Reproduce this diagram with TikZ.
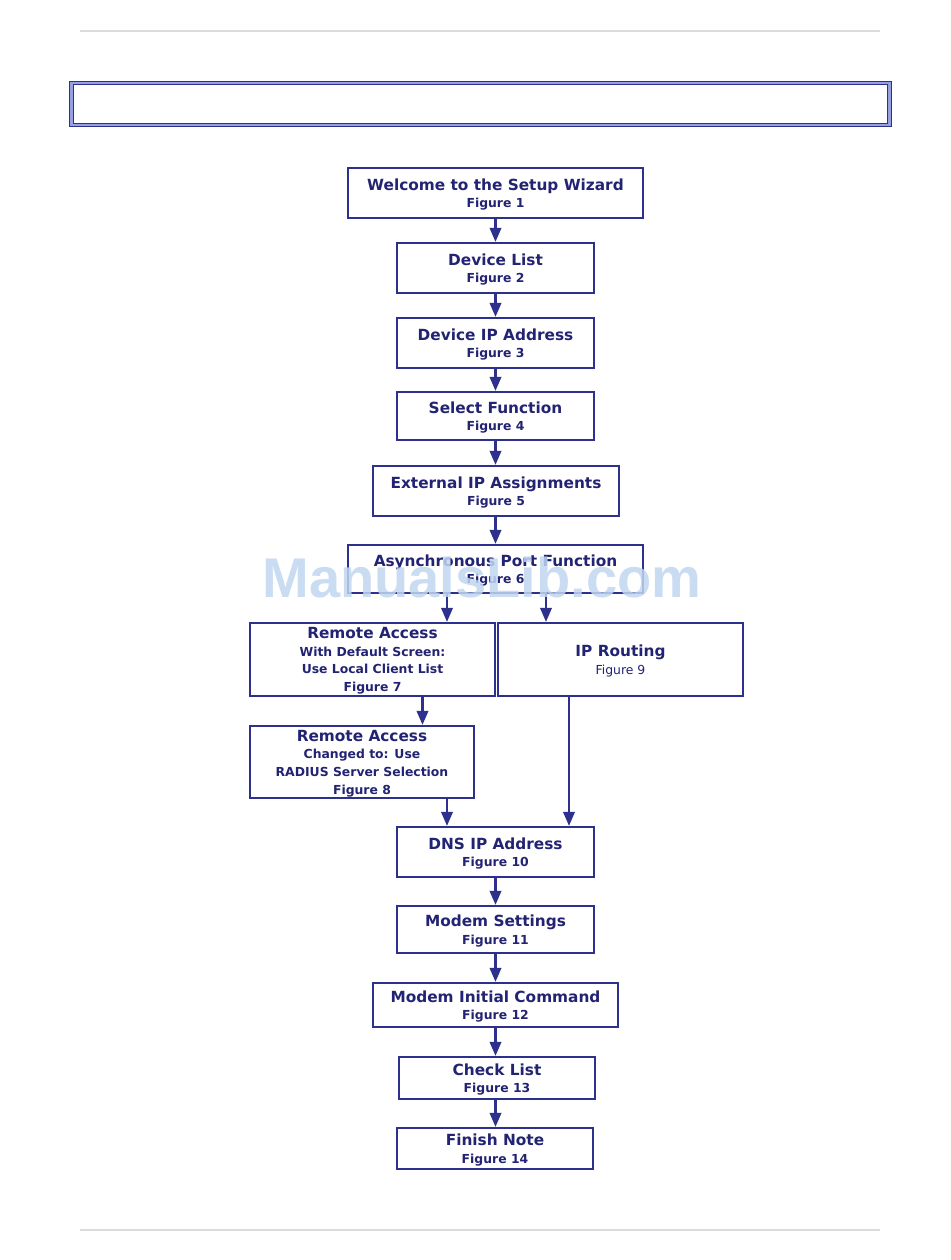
\documentclass[tikz,border=0pt]{standalone}
\usepackage{fontspec}
\setmainfont{DejaVu Sans}
\newfontfamily\wmfont{Liberation Sans}
\usetikzlibrary{arrows.meta}
\definecolor{navy}{RGB}{45,48,140}
\definecolor{txt}{RGB}{35,35,115}
\definecolor{wm}{RGB}{192,214,240}
\definecolor{band}{RGB}{150,160,225}
\newcommand{\tl}[1]{{\fontsize{11.5}{13.2}\selectfont\bfseries #1}}
\newcommand{\fg}[1]{{\fontsize{9.3}{13.2}\selectfont\bfseries #1}}
\newcommand{\fgr}[1]{{\fontsize{9.3}{13.2}\selectfont #1}}
\begin{document}
\begin{tikzpicture}[x=0.75pt,y=-0.75pt,
  box/.style={draw=navy,line width=1.6pt,rectangle,inner sep=0pt,align=center,text=txt,fill=white,
    font=\fontsize{9.3}{13.2}\selectfont,text depth=-0.6pt},
  arr/.style={draw=navy,line width=1.8pt,-{Triangle[width=8.5pt,length=10.5pt]}},
  rule/.style={draw=black!14,line width=1.5pt}]
\useasboundingbox (0,0) rectangle (950,1260);
\fill[white] (0,0) rectangle (950,1260);
% top and bottom rules
\coordinate (rtl) at (80,31); \coordinate (rtr) at (880,31);
\coordinate (rbl) at (80,1230); \coordinate (rbr) at (880,1230);
\draw[rule] (rtl) -- (rtr);
\draw[rule] (rbl) -- (rbr);
% header box
\node[draw=navy,double=band,double distance=1.6pt,line width=0.9pt,inner sep=0pt,
  minimum width=613.5pt,minimum height=31.5pt] (head) at (480.5,104) {};
% boxes
\node[box,minimum width=221.25pt,minimum height=37.5pt] (n1) at (495.5,193)
  {\tl{Welcome to the Setup Wizard}\\\fg{Figure 1}};
\node[box,minimum width=147.75pt,minimum height=37.5pt] (n2) at (495.5,268)
  {\tl{Device List}\\\fg{Figure 2}};
\node[box,minimum width=147.75pt,minimum height=37.5pt] (n3) at (495.5,343)
  {\tl{Device IP Address}\\\fg{Figure 3}};
\node[box,minimum width=147.75pt,minimum height=36pt] (n4) at (495.5,416)
  {\tl{Select Function}\\\fg{Figure 4}};
\node[box,minimum width=184.5pt,minimum height=37.5pt] (n5) at (496,491)
  {\tl{External IP Assignments}\\\fg{Figure 5}};
\node[box,minimum width=221.25pt,minimum height=36pt] (n6) at (495.5,569)
  {\tl{Asynchronous Port Function}\\\fg{Figure 6}};
\node[box,minimum width=183.75pt,minimum height=54.75pt] (n7) at (372.5,659.5)
  {\tl{Remote Access}\\\fg{With Default Screen:}\\\fg{Use Local Client List}\\\fg{Figure 7}};
\node[box,minimum width=183.75pt,minimum height=54.75pt] (n9) at (620.5,659.5)
  {\tl{IP Routing}\\\fgr{Figure 9}};
\node[box,minimum width=168pt,minimum height=54pt] (n8) at (362,762)
  {\tl{Remote Access}\\\fg{Changed to: Use}\\\fg{RADIUS Server Selection}\\\fg{Figure 8}};
\node[box,minimum width=147.75pt,minimum height=37.5pt] (n10) at (495.5,852)
  {\tl{DNS IP Address}\\\fg{Figure 10}};
\node[box,minimum width=147.75pt,minimum height=35.25pt] (n11) at (495.5,929.5)
  {\tl{Modem Settings}\\\fg{Figure 11}};
\node[box,minimum width=183.75pt,minimum height=33pt] (n12) at (495.5,1005)
  {\tl{Modem Initial Command}\\\fg{Figure 12}};
\node[box,minimum width=147pt,minimum height=31.5pt] (n13) at (497,1078)
  {\tl{Check List}\\\fg{Figure 13}};
\node[box,minimum width=147pt,minimum height=30.75pt] (n14) at (495,1148.5)
  {\tl{Finish Note}\\\fg{Figure 14}};
% x positions of branch connectors
\coordinate (xc) at (495.5,0);
\coordinate (xa) at (447,0);
\coordinate (xb) at (546,0);
\coordinate (xd) at (422.5,0);
\coordinate (xe) at (569,0);
% connectors
\draw[arr] (n1.south -| xc) -- (n2.north -| xc);
\draw[arr] (n2.south -| xc) -- (n3.north -| xc);
\draw[arr] (n3.south -| xc) -- (n4.north -| xc);
\draw[arr] (n4.south -| xc) -- (n5.north -| xc);
\draw[arr] (n5.south -| xc) -- (n6.north -| xc);
\draw[arr] (n6.south -| xa) -- (n7.north -| xa);
\draw[arr] (n6.south -| xb) -- (n9.north -| xb);
\draw[arr] (n7.south -| xd) -- (n8.north -| xd);
\draw[arr] (n8.south -| xa) -- (n10.north -| xa);
\draw[arr] (n9.south -| xe) -- (n10.north -| xe);
\draw[arr] (n10.south -| xc) -- (n11.north -| xc);
\draw[arr] (n11.south -| xc) -- (n12.north -| xc);
\draw[arr] (n12.south -| xc) -- (n13.north -| xc);
\draw[arr] (n13.south -| xc) -- (n14.north -| xc);
% watermark
\node[text=wm,opacity=0.85,font=\wmfont\fontsize{42}{46}\selectfont\bfseries,inner sep=0pt] (wmk) at (482,577) {ManualsLib.com};
\end{tikzpicture}
\end{document}
